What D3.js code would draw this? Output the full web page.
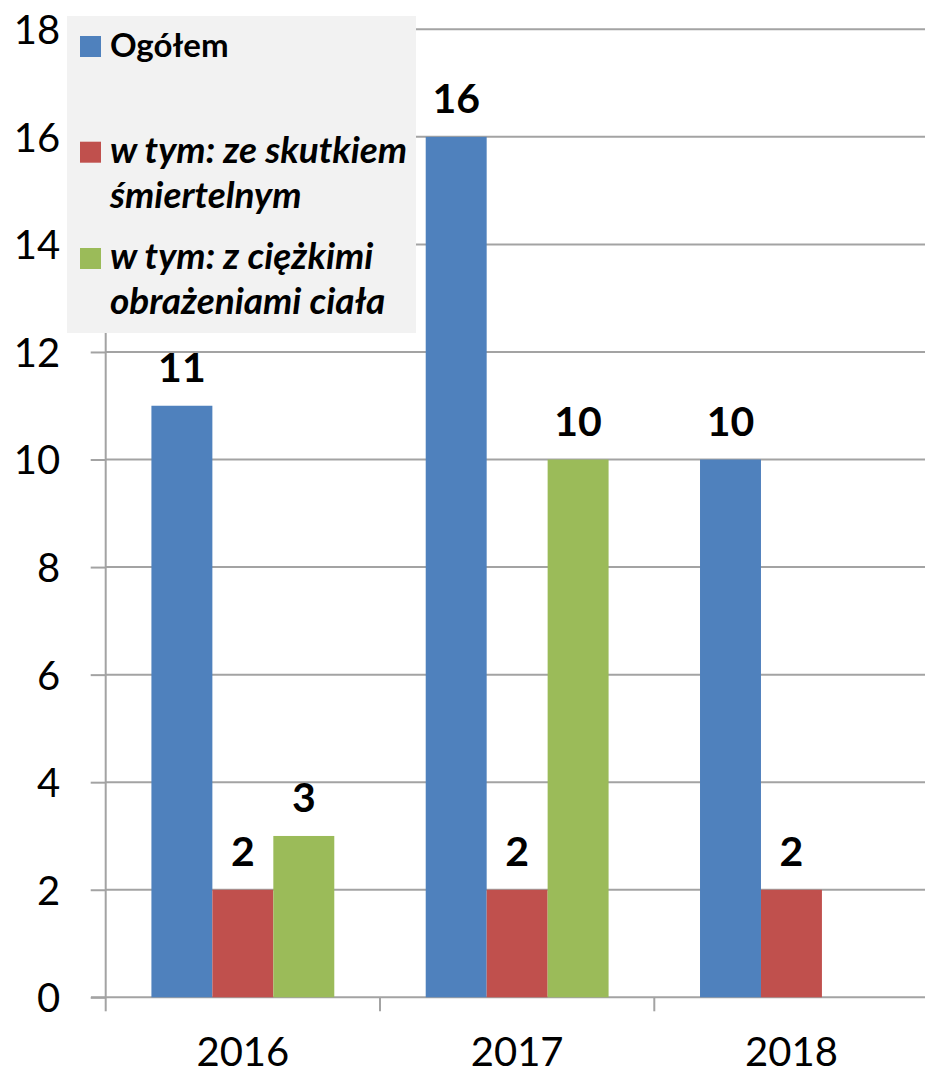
<!DOCTYPE html>
<html><head><meta charset="utf-8">
<script src="https://cdn.jsdelivr.net/npm/d3@7"></script>
<style>html,body{margin:0;padding:0;background:#fff;}svg{display:block;}</style>
</head><body>
<script>
const categories = ["2016", "2017", "2018"];
const seriesNames = ["Ogółem", "w tym: ze skutkiem śmiertelnym", "w tym: z ciężkimi obrażeniami ciała"];
const legendLines = [["Ogółem"], ["w tym: ze skutkiem", "śmiertelnym"], ["w tym: z ciężkimi", "obrażeniami ciała"]];
const ogolem = [11, 16, 10];
const smiertelne = [2, 2, 2];
const ciezkie = [3, 10, null];
const yTicks = [0, 2, 4, 6, 8, 10, 12, 14, 16, 18];
const colors = ["#4f81bd", "#c0504d", "#9bbb59"];

const W = 925, H = 1075;
const svg = d3.select("body").append("svg").attr("width", W).attr("height", H);
const FONT = "Lato, 'Open Sans', sans-serif";

const x0 = d3.scaleBand().domain(categories).range([105.7, 928.6]).padding(0);
const x1 = d3.scaleBand().domain(d3.range(3)).range([0, x0.bandwidth()]).paddingInner(0).paddingOuter(0.75);
const y = d3.scaleLinear().domain([0, 18]).range([997.3, 29.3]);

// gridlines
svg.append("g").selectAll("line").data(yTicks.filter(d => d > 0)).join("line")
  .attr("x1", 105.7).attr("x2", W).attr("y1", d => y(d)).attr("y2", d => y(d))
  .attr("stroke", "#a3a3a3").attr("stroke-width", 2);

// y axis
const yAxis = svg.append("g").attr("transform", "translate(105.7,0)")
  .call(d3.axisLeft(y).tickValues(yTicks).tickSize(0).tickPadding(0).tickFormat(d3.format("d")));
yAxis.select(".domain").remove();
yAxis.append("line").attr("x1", 0).attr("x2", 0).attr("y1", y(18)).attr("y2", y(0)).attr("stroke", "#a3a3a3").attr("stroke-width", 2);
yAxis.selectAll(".tick line").remove();
yAxis.selectAll(".tick").append("line").attr("x1", -15).attr("x2", 0).attr("stroke", "#a3a3a3").attr("stroke-width", 2);
yAxis.selectAll(".tick text").attr("x", -45.5).attr("dy", "0.36em")
  .attr("font-family", FONT).attr("font-size", 40).attr("fill", "#000");

// x axis
const xAxis = svg.append("g").attr("transform", `translate(0,${y(0)})`)
  .call(d3.axisBottom(x0).tickSize(0).tickPadding(0));
xAxis.select(".domain").remove();
xAxis.append("line").attr("x1", 91).attr("x2", W).attr("stroke", "#a3a3a3").attr("stroke-width", 2);
const bounds = categories.map(c => x0(c)).concat([x0.range()[1]]);
xAxis.selectAll("line.cb").data(bounds).join("line").attr("class", "cb")
  .attr("x1", d => d).attr("x2", d => d).attr("y1", 0).attr("y2", 14)
  .attr("stroke", "#a3a3a3").attr("stroke-width", 2);
xAxis.selectAll(".tick text").attr("y", 69).attr("dy", 0)
  .attr("font-family", FONT).attr("font-size", 40).attr("fill", "#000");

// bars
const series = [ogolem, smiertelne, ciezkie];
const flat = [];
series.forEach((vals, si) => vals.forEach((v, ci) => { if (v != null) flat.push({si, ci, v}); }));
const gBars = svg.append("g");
gBars.selectAll("rect").data(flat).join("rect")
  .attr("x", d => x0(categories[d.ci]) + x1(d.si))
  .attr("width", x1.bandwidth())
  .attr("y", d => y(d.v))
  .attr("height", d => y(0) - y(d.v))
  .attr("fill", d => colors[d.si]);
gBars.selectAll("text").data(flat).join("text")
  .attr("x", d => x0(categories[d.ci]) + x1(d.si) + x1.bandwidth() / 2)
  .attr("y", d => y(d.v) - 24)
  .attr("text-anchor", "middle")
  .attr("font-family", FONT).attr("font-weight", "bold").attr("font-size", 41)
  .attr("fill", "#000").text(d => d.v);

// legend
const lg = svg.append("g");
lg.append("rect").attr("x", 67).attr("y", 16).attr("width", 349).attr("height", 317).attr("fill", "#f2f2f2");
const sqY = [36, 141.7, 248];
legendLines.forEach((lines, i) => {
  lg.append("rect").attr("x", 80).attr("y", sqY[i]).attr("width", 21).attr("height", 21).attr("fill", colors[i]);
  const t = lg.append("text").attr("font-family", FONT).attr("font-weight", "bold")
    .attr("font-style", i === 0 ? "normal" : "italic").attr("font-size", i === 0 ? 33 : 37).attr("fill", "#000");
  lines.forEach((ln, k) => {
    t.append("tspan").attr("x", 110).attr("y", sqY[i] + 21 + k * 45).text(ln);
  });
});
</script>
</body></html>
